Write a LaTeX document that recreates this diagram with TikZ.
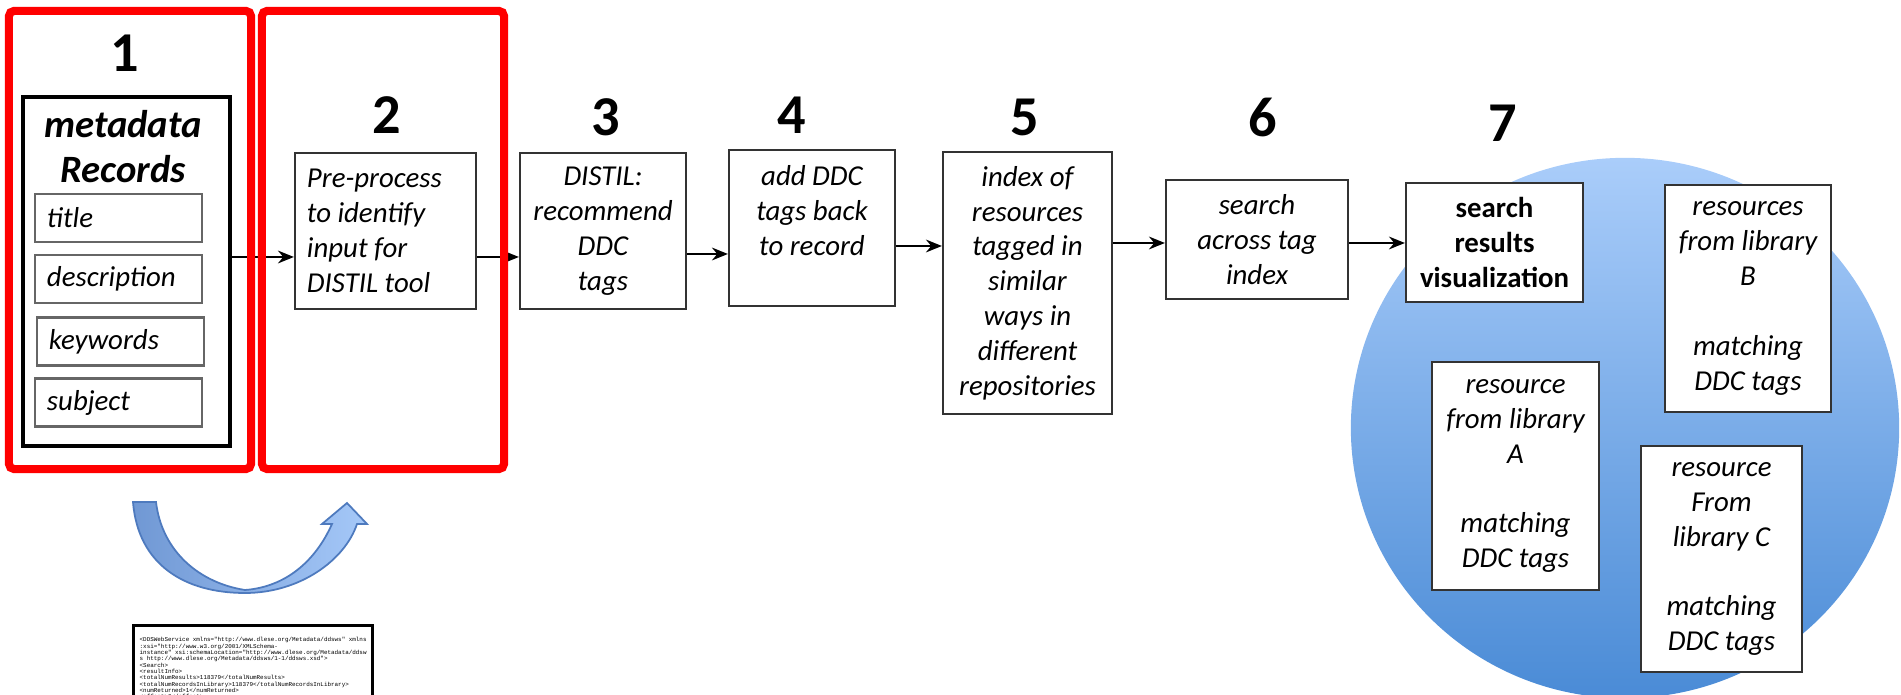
\documentclass[tikz,border=0pt]{standalone}
\usepackage{fontspec}
\setmainfont{Carlito}
\setmonofont{Liberation Mono}
\usetikzlibrary{arrows.meta}

\definecolor{framered}{RGB}{255,0,0}
\definecolor{globetop}{RGB}{170,205,250}
\definecolor{globebottom}{RGB}{74,139,214}
\definecolor{bendleft}{RGB}{112,152,212}
\definecolor{bendmid}{RGB}{60,112,188}
\definecolor{bendright}{RGB}{165,200,248}
\definecolor{bendline}{RGB}{78,122,190}

\tikzset{
	procbox/.style={draw=black!80, line width=0.6pt, fill=white, inner sep=0pt, align=center, font=\itshape\fontsize{8.2}{9.9}\selectfont},
	boldbox/.style={procbox, font=\bfseries\fontsize{8.2}{9.9}\selectfont},
	fieldbox/.style={draw=black!60, line width=0.6pt, fill=white, inner xsep=0.12cm, inner ysep=0pt, text width=1.43cm, minimum height=0.48cm, align=flush left, font=\itshape\fontsize{8.2}{9.9}\selectfont},
	stepnum/.style={inner sep=0pt, font=\bfseries\fontsize{16}{18}\selectfont},
	redframe/.style={draw=framered, line width=2.3pt, rounded corners=1.5pt, minimum width=2.42cm, minimum height=4.58cm, inner sep=0pt},
	flow/.style={black, line width=0.8pt, -{Stealth[length=4.5pt, width=3.6pt]}},
}

\begin{document}
\begin{tikzpicture}[x=0.01cm, y=-0.01cm]
			\useasboundingbox (0, 0) rectangle (1901, 695);
			
			\shade [top color=globetop, bottom color=globebottom] (1625, 428) ellipse [x radius=2.74cm, y radius=2.70cm];
			
			\node [stepnum] at (125, 53) (n1) {1};
			\node [draw=black, line width=1pt, minimum width=2.07cm, minimum height=3.49cm, inner sep=0pt] at (126.5, 271.5) (meta) {};
			\node [inner sep=0pt, align=center, font=\bfseries\itshape\fontsize{11}{12.8}\selectfont] at (123, 147) (metatitle) {metadata\\Records};
			\node [fieldbox] at (118.5, 218) (ftitle) {title};
			\node [fieldbox] at (118.5, 279) (fdesc) {description};
			\node [fieldbox] at (120.5, 341.5) (fkey) {keywords};
			\node [fieldbox] at (118.5, 402.5) (fsubj) {subject};
			
			\node [stepnum] at (387, 115) (n2) {2};
			\node [procbox, align=flush left, text width=1.57cm, inner xsep=0.12cm, minimum height=1.56cm] at (385.5, 231) (b2) {Pre-process\\to identify\\input for\\DISTIL tool};
			
			\node [stepnum] at (606, 117) (n3) {3};
			\node [procbox, minimum width=1.66cm, minimum height=1.56cm] at (603, 231) (b3) {DISTIL:\\recommend\\DDC\\tags};
			
			\node [stepnum] at (792, 115) (n4) {4};
			\node [procbox, minimum width=1.66cm, minimum height=1.56cm] at (812, 228) (b4) {add DDC\\tags back\\to record\\~};
			
			\node [stepnum] at (1025, 117) (n5) {5};
			\node [procbox, minimum width=1.69cm, minimum height=2.62cm] at (1027.5, 283) (b5) {index of\\resources\\tagged in\\similar\\ways in\\different\\repositories};
			
			\node [stepnum] at (1263, 118) (n6) {6};
			\node [procbox, minimum width=1.82cm, minimum height=1.19cm] at (1257, 239.5) (b6) {search\\across tag\\index};
			
			\node [stepnum] at (1503, 123) (n7) {7};
			\node [boldbox, minimum width=1.77cm, minimum height=1.19cm] at (1494.5, 242.5) (b7) {search\\results\\visualization};
			\node [procbox, minimum width=1.67cm, minimum height=2.28cm] at (1515.5, 476) (resA) {resource\\from library\\A\\[9.9pt]matching\\DDC tags};
			\node [procbox, minimum width=1.66cm, minimum height=2.27cm] at (1748, 298.5) (resB) {resources\\from library\\B\\[9.9pt]matching\\DDC tags};
			\node [procbox, minimum width=1.61cm, minimum height=2.26cm] at (1721.5, 559) (resC) {resource\\From\\library C\\[9.9pt]matching\\DDC tags};
			
			\draw [flow] (meta.east |- 0,257) -- (b2.west |- 0,257);
			\draw [flow] (b2.east |- 0,257) -- (b3.west |- 0,257);
			\draw [flow] (b3.east |- 0,254) -- (b4.west |- 0,254);
			\draw [flow] (b4.east |- 0,246) -- (b5.west |- 0,246);
			\draw [flow] (b5.east |- 0,243) -- (b6.west |- 0,243);
			\draw [flow] (b6.east |- 0,243) -- (b7.west |- 0,243);
			
			\node [redframe] at (130, 240) (frame1) {};
			\node [redframe] at (383, 240) (frame2) {};
			
			\draw [bendline, line width=0.5pt, left color=bendleft, middle color=bendmid, right color=bendright]
				(133, 502) .. controls (138, 565) and (185, 593) .. (245, 593)
				.. controls (300, 593) and (345, 560) .. (357, 524)
				-- (367, 524) -- (347, 503) -- (322, 524) -- (332, 524)
				.. controls (315, 562) and (285, 587) .. (245, 590)
				.. controls (200, 583) and (162, 552) .. (156, 502) -- cycle;
			
			\node [draw=black, line width=0.9pt, anchor=north west, align=left, inner xsep=0.05cm, inner ysep=0.07cm, minimum width=2.39cm, minimum height=0.85cm, font=\ttfamily\fontsize{1.68}{1.8}\selectfont] at (132, 624) (xml) {<DDSWebService xmlns="http://www.dlese.org/Metadata/ddsws" xmlns\\:xsi="http://www.w3.org/2001/XMLSchema-\\instance" xsi:schemaLocation="http://www.dlese.org/Metadata/ddsw\\s http://www.dlese.org/Metadata/ddsws/1-1/ddsws.xsd">\\<Search>\\<resultInfo>\\<totalNumResults>118379</totalNumResults>\\<totalNumRecordsInLibrary>118379</totalNumRecordsInLibrary>\\<numReturned>1</numReturned>\\<offset>0</offset>};
\end{tikzpicture}
\end{document}
